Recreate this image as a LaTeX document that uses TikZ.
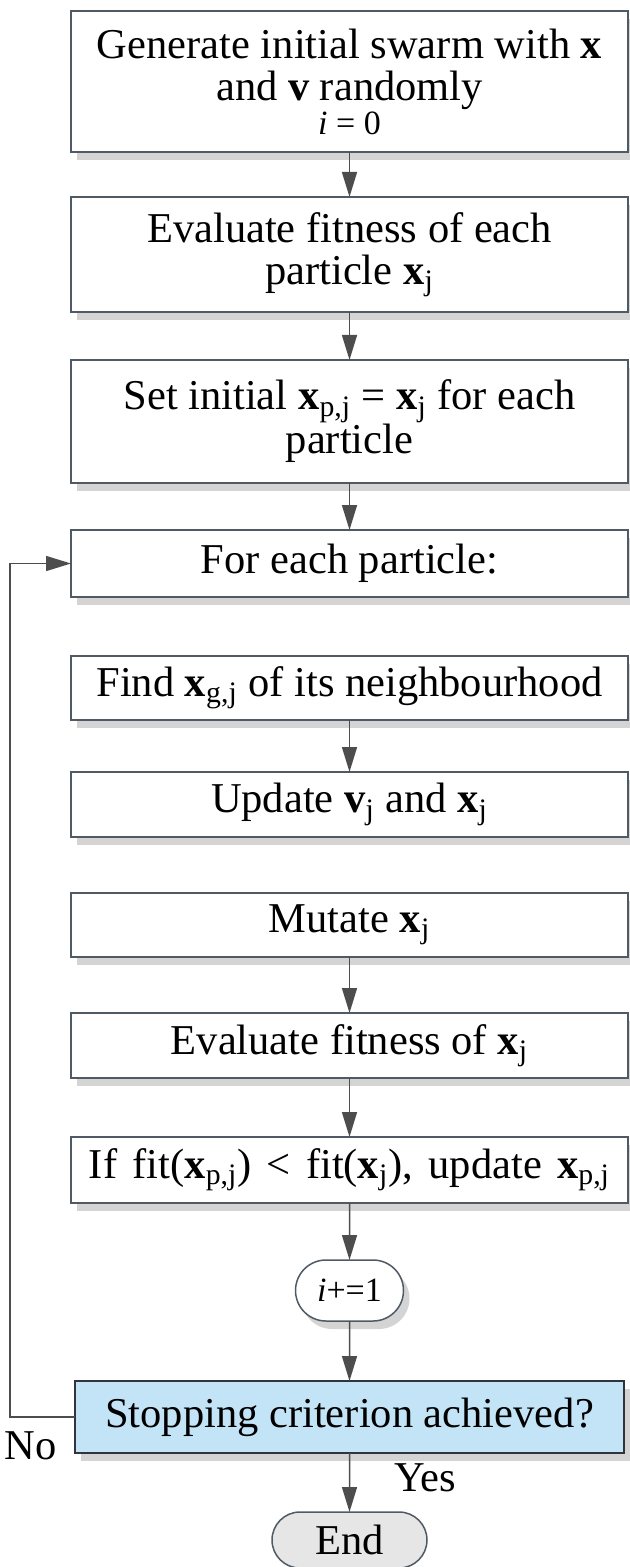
\documentclass[tikz,border=0pt]{standalone}
\usepackage{fontspec}
\setmainfont{Liberation Serif}
\usetikzlibrary{arrows.meta,positioning,shapes.misc,shadows}
\definecolor{edge}{HTML}{505A64}
\definecolor{ink}{HTML}{4D4D4D}
\definecolor{shade}{HTML}{D4D4D4}
\definecolor{sky}{HTML}{C3E4F6}
\definecolor{stone}{HTML}{E6E6E6}
\definecolor{night}{HTML}{2E353D}
\newcommand{\xs}[1]{\textbf{x}\textsubscript{#1}}

\begin{document}
\begin{tikzpicture}[shadowed/.style={drop shadow={shadow xshift=3pt,shadow yshift=-4pt,fill=shade,opacity=1}},box/.style={shadowed,draw=edge,fill=white,line width=.75pt,outer sep=0pt,minimum width=278.5pt,inner sep=2pt,align=center,font=\fontsize{21.25pt}{21pt}\selectfont},pill/.style={rounded rectangle,draw=edge,fill=white,line width=.75pt,outer sep=0pt,inner sep=2pt,font=\fontsize{21.25pt}{21pt}\selectfont},arrow/.style={-{Triangle[length=12.5pt,width=7.5pt]},line width=.75pt,ink},tag/.style={inner sep=0pt,text=black,font=\fontsize{21.25pt}{21pt}\selectfont}]
 \useasboundingbox (0,0) rectangle (314.5pt,-783.5pt);
 \node[box,minimum height=70.5pt,anchor=north] (init) at (174.75pt,-5.5pt) {Generate initial swarm with \textbf{x}\\and \textbf{v} randomly\\[-4pt]{\fontsize{17pt}{17pt}\selectfont\textit{i} = 0}};
 \node[box,minimum height=57.5pt,below=22.5pt of init] (evalall) {Evaluate fitness of each\\particle \xs{j}};
 \node[box,minimum height=61.5pt,below=24pt of evalall] (setbest) {Set initial \xs{p,j} = \xs{j} for each\\particle};
 \node[box,minimum height=33.5pt,below=23.5pt of setbest] (each) {For each particle:};
 \node[box,minimum height=32pt,below=29.5pt of each] (findg) {Find \xs{g,j} of its neighbourhood};
 \node[box,minimum height=32.5pt,below=26pt of findg] (update) {Update \textbf{v}\textsubscript{j} and \xs{j}};
 \node[box,minimum height=32pt,below=28pt of update] (mutate) {Mutate \xs{j}};
 \node[box,minimum height=32.5pt,below=28pt of mutate] (evalx) {Evaluate fitness of \xs{j}};
 \node[box,minimum height=33pt,below=29.5pt of evalx] (keep) {\spaceskip=.36em\relax If fit(\xs{p,j}) < fit(\xs{j}), update \xs{p,j}};
 \node[pill,shadowed,minimum width=58pt,minimum height=30.5pt,below=28.5pt of keep,font=\fontsize{17pt}{17pt}\selectfont] (inc) {\textit{i}+=1};
 \node[box,draw=night,fill=sky,minimum width=274.5pt,minimum height=36pt,below=30pt of inc] (stop) {Stopping criterion achieved?};
 \node[pill,fill=stone,minimum width=81.5pt,minimum height=28pt,below=29.5pt of stop] (finish) {End};
 \draw[arrow] (init)--(evalall); \draw[arrow] (evalall)--(setbest); \draw[arrow] (setbest)--(each);
 \draw[arrow] (findg)--(update); \draw[arrow] (mutate)--(evalx); \draw[arrow] (evalx)--(keep);
 \draw[arrow] (keep)--(inc); \draw[arrow] (inc)--(stop);
 \draw[arrow] (stop)--node[tag,right=22pt,pos=.42]{Yes}(finish);
 \draw[arrow] (stop.west)--++(-32.5pt,0)|-(each.west);
 \node[tag,left=9pt of stop.south west,yshift=3.5pt] (no) {No};
\end{tikzpicture}
\end{document}
